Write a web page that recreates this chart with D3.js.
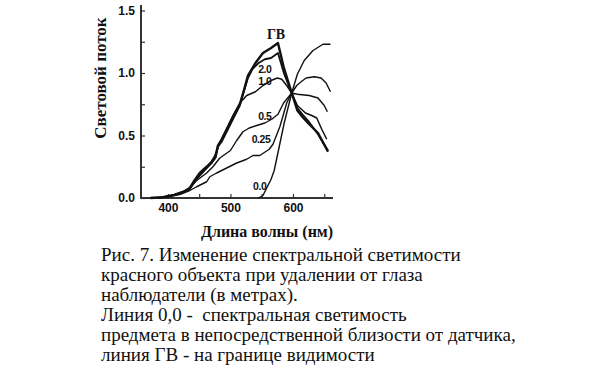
<!DOCTYPE html>
<html>
<head>
<meta charset="utf-8">
<script src="https://cdn.jsdelivr.net/npm/d3@7"></script>
<style>
  body { margin: 0; background: #fff; }
  svg { display: block; }
</style>
</head>
<body>
<svg id="chart" width="600" height="374"></svg>
<script>
// spectral curves: [wavelength nm, luminous flux]
const lineGV = [[372,0],[390,0.005],[410,0.025],[425,0.05],[435,0.08],[441,0.13],[451,0.20],[462,0.25],[470,0.29],[476,0.33],[480,0.42],[486,0.47],[500,0.61],[515,0.75],[522,0.87],[528,0.98],[540,1.08],[552,1.16],[565,1.20],[576,1.24],[585,1.05],[598,0.84],[607,0.70],[615,0.65],[624,0.60],[640,0.52],[656,0.37]];
const line20 = [[372,0],[390,0.005],[410,0.025],[425,0.05],[435,0.075],[441,0.12],[451,0.19],[462,0.24],[470,0.28],[476,0.32],[480,0.41],[486,0.45],[500,0.59],[515,0.74],[522,0.86],[528,0.96],[535,1.03],[545,1.08],[555,1.11],[565,1.12],[576,1.16],[586,0.99],[598,0.84],[607,0.72],[615,0.67],[624,0.62],[640,0.51],[656,0.38]];
const line10 = [[375,0],[400,0.01],[420,0.04],[435,0.07],[446,0.15],[457,0.21],[467,0.27],[475,0.34],[483,0.44],[494,0.55],[504,0.66],[515,0.76],[526,0.82],[540,0.85],[552,0.90],[565,0.94],[575,0.96],[582,0.95],[590,0.90],[598,0.84],[607,0.74],[620,0.68],[630,0.66],[638,0.64],[646,0.55],[654,0.47]];
const line05 = [[375,0],[400,0.01],[420,0.035],[430,0.06],[446,0.14],[462,0.20],[472,0.25],[483,0.32],[500,0.38],[510,0.46],[520,0.53],[530,0.56],[542,0.58],[555,0.60],[566,0.63],[576,0.67],[585,0.76],[598,0.84],[607,0.83],[626,0.82],[640,0.80],[650,0.74],[655,0.69]];
const line025 = [[378,0],[400,0.008],[420,0.03],[435,0.06],[446,0.09],[462,0.13],[467,0.17],[478,0.20],[494,0.24],[510,0.28],[526,0.31],[536,0.34],[547,0.34],[556,0.37],[562,0.39],[568,0.43],[579,0.57],[590,0.76],[598,0.84],[606,0.90],[613,0.93],[621,0.96],[634,0.97],[645,0.96],[653,0.92],[660,0.85]];
const line00 = [[545,0],[552,0.02],[559,0.09],[565,0.15],[570,0.22],[578,0.41],[586,0.60],[598,0.84],[607,0.99],[618,1.10],[632,1.18],[648,1.23],[660,1.23]];

const series = [lineGV, line20, line10, line05, line025, line00];
const seriesLabels = ['ГВ', '2.0', '1.0', '0.5', '0.25', '0.0'];

const xTicks = [400, 450, 500, 550, 600, 650];
const xLabels = [400, 500, 600];
const yTicks = [0, 0.25, 0.5, 0.75, 1.0, 1.25, 1.5];
const yLabels = [0, 0.5, 1.0, 1.5];

const captionLines = [
  'Рис. 7. Изменение спектральной светимости',
  'красного объекта при удалении от глаза',
  'наблюдатели (в метрах).',
  'Линия 0,0 -  спектральная светимость',
  'предмета в непосредственной близости от датчика,',
  'линия ГВ - на границе видимости'
];

const svg = d3.select('#chart');

const x = d3.scaleLinear().domain([357, 664]).range([141, 333]);
const y = d3.scaleLinear().domain([0, 1.5]).range([198, 10.5]);

// axis lines
svg.append('line')
  .attr('x1', 141).attr('x2', 141).attr('y1', 5).attr('y2', y(0))
  .attr('stroke', '#333').attr('stroke-width', 2);
svg.append('line')
  .attr('x1', 140).attr('x2', x(664)).attr('y1', y(0)).attr('y2', y(0))
  .attr('stroke', '#333').attr('stroke-width', 2);

// y ticks (inside) and labels
svg.append('g')
  .attr('transform', 'translate(141,0)')
  .call(d3.axisLeft(y).tickValues(yTicks).tickSize(-4).tickFormat(''))
  .call(g => g.select('.domain').remove())
  .call(g => g.selectAll('line').attr('stroke', '#333').attr('stroke-width', 1.2));
svg.append('g')
  .attr('transform', 'translate(141,0)')
  .call(d3.axisLeft(y).tickValues(yLabels).tickSize(0).tickPadding(6).tickFormat(d3.format('.1f')))
  .call(g => g.select('.domain').remove())
  .call(g => g.selectAll('text')
    .attr('font-family', 'Liberation Sans, Arial, sans-serif')
    .attr('font-weight', 'bold').attr('font-size', 12).attr('fill', '#111'));

// x ticks (inside) and labels
svg.append('g')
  .attr('transform', `translate(0,${y(0)})`)
  .call(d3.axisBottom(x).tickValues(xTicks).tickSize(-4).tickFormat(''))
  .call(g => g.select('.domain').remove())
  .call(g => g.selectAll('line').attr('stroke', '#333').attr('stroke-width', 1.2));
svg.append('g')
  .attr('transform', `translate(0,${y(0)})`)
  .call(d3.axisBottom(x).tickValues(xLabels).tickSize(0).tickPadding(5).tickFormat(d3.format('d')))
  .call(g => g.select('.domain').remove())
  .call(g => g.selectAll('text')
    .attr('font-family', 'Liberation Sans, Arial, sans-serif')
    .attr('font-weight', 'bold').attr('font-size', 12).attr('fill', '#111'));

// curves
const line = d3.line().x(d => x(d[0])).y(d => y(d[1]));
const widths = [2.4, 1.8, 1.5, 1.4, 1.4, 1.4];
svg.append('g')
  .selectAll('path')
  .data(series)
  .enter().append('path')
  .attr('d', line)
  .attr('fill', 'none')
  .attr('stroke', '#111')
  .attr('stroke-width', (d, i) => widths[i])
  .attr('stroke-linejoin', 'round');

// curve labels
const labelPos = [[573, 1.31], [555, 1.03], [555, 0.93], [555, 0.65], [549, 0.47], [547, 0.09]];
svg.append('g')
  .selectAll('text')
  .data(seriesLabels)
  .enter().append('text')
  .attr('x', (d, i) => x(labelPos[i][0]))
  .attr('y', (d, i) => y(labelPos[i][1]))
  .attr('text-anchor', 'middle')
  .attr('dy', '0.35em')
  .attr('font-family', (d, i) => i === 0 ? 'Liberation Serif, Times New Roman, serif' : 'Liberation Sans, Arial, sans-serif')
  .attr('font-weight', 'bold')
  .attr('font-size', (d, i) => i === 0 ? 14 : 10.5)
  .attr('letter-spacing', (d, i) => i === 0 ? 0 : -0.4)
  .attr('fill', '#111')
  .text(d => d);

// axis titles
svg.append('text')
  .attr('transform', 'translate(100,78) rotate(-90)')
  .attr('text-anchor', 'middle')
  .attr('dy', '0.35em')
  .attr('font-family', 'Liberation Serif, Times New Roman, serif')
  .attr('font-weight', 'bold').attr('font-size', 17).attr('fill', '#111')
  .text('Световой поток');
svg.append('text')
  .attr('x', 267).attr('y', 237)
  .attr('text-anchor', 'middle')
  .attr('font-family', 'Liberation Serif, Times New Roman, serif')
  .attr('font-weight', 'bold').attr('font-size', 16).attr('fill', '#111')
  .text('Длина волны (нм)');

// caption
svg.append('g')
  .selectAll('text')
  .data(captionLines)
  .enter().append('text')
  .attr('x', 101)
  .attr('y', (d, i) => 261 + i * 20)
  .attr('font-family', 'Liberation Serif, Times New Roman, serif')
  .attr('font-size', 19)
  .attr('fill', '#111')
  .style('white-space', 'pre')
  .text(d => d);
</script>
</body>
</html>
